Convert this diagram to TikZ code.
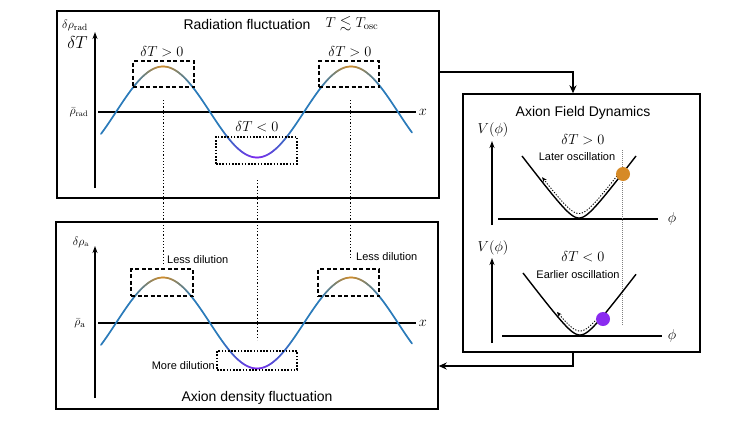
\documentclass[tikz,border=0pt]{standalone}
\usepackage{amsmath,amssymb}
\usepackage{fontspec}
\newfontfamily\hv{Liberation Sans}
\usetikzlibrary{arrows.meta,calc}
\definecolor{wblue}{RGB}{43,123,186}
\definecolor{worange}{RGB}{210,140,40}
\definecolor{wpurple}{RGB}{125,40,240}
\definecolor{ballorange}{RGB}{214,138,38}
\definecolor{ballpurple}{RGB}{138,43,240}
\newcommand\wavecurve[1]{%
 \foreach \xa in {101,...,411}{%
  \pgfmathsetmacro\xbb{\xa+1}%
  \pgfmathsetmacro\xmm{\xa+0.5}%
  \pgfmathsetmacro\wPk{100*max(0,1-min(abs(\xmm-163),abs(\xmm-351))/31)}%
  \pgfmathsetmacro\wTk{100*max(0,1-abs(\xmm-257)/36)}%
  \pgfmathsetmacro\ya{#1-45.5*sin(1.9148936*(\xa-116))}%
  \pgfmathsetmacro\yb{#1-45.5*sin(1.9148936*(\xbb-116))}%
  \colorlet{wc}{worange!\wPk!wblue}%
  \colorlet{wc}{wpurple!\wTk!wc}%
  \draw[wave,wc] (\xa,\ya) -- (\xbb,\yb);
 }}
\tikzset{
 panel/.style={draw,line width=1.4pt,inner sep=0pt},
 wave/.style={line width=1.7pt,line cap=round},
 axisline/.style={line width=1.3pt},
 yarrow/.style={line width=1.3pt,-{Stealth[length=7pt,width=5pt]}},
 dbox/.style={draw,line width=1.6pt,dash pattern=on 4pt off 2.5pt,inner sep=0pt},
 obox/.style={draw,line width=1.6pt,dash pattern=on 1.6pt off 1.6pt,inner sep=0pt},
 vdot/.style={line width=0.9pt,dash pattern=on 1.2pt off 2pt},
 flow/.style={line width=1.8pt,-{Stealth[length=8pt,width=7pt]}},
 pot/.style={line width=1.4pt},
 dotarrow/.style={line width=0.9pt,dash pattern=on 1.2pt off 1.6pt,-{Stealth[length=5pt,width=4pt]}},
 ttl/.style={font=\hv\fontsize{14}{16}\selectfont},
 lbl/.style={font=\hv\fontsize{11}{13}\selectfont,inner sep=1pt},
 mth/.style={font=\fontsize{14}{16}\selectfont,inner sep=0pt},
}
\begin{document}
\begin{tikzpicture}[x=1pt,y=-1pt]
\useasboundingbox (0,0) rectangle (747,421);
% panels
\node[panel,minimum width=382pt,minimum height=187pt] (rad) at (248,104.5) {};
\node[panel,minimum width=382pt,minimum height=187pt] (den) at (247,315.5) {};
\node[panel,minimum width=237pt,minimum height=258pt] (dyn) at (581.5,223) {};
% flow arrows
\draw[flow] ([yshift=-62pt]rad.north east) -| ([xshift=-8.5pt]dyn.north);
\draw[flow] ([xshift=-8.5pt]dyn.south) |- ([yshift=-50.5pt]den.east);

% ---------- Radiation panel
\node[ttl] (t1) at (247,24) {Radiation fluctuation};
\node[mth,font=\fontsize{15}{17}\selectfont] (t1b) at (352,24) {$T\lesssim T_{\rm osc}$};
\node[mth,font=\fontsize{13}{15}\selectfont] (ya1) at (75,25) {$\delta\rho_{\rm rad}$};
\node[mth,font=\fontsize{19}{21}\selectfont] (ya1b) at (77.5,42) {$\delta T$};
\coordinate (ay1a) at (95,188);
\coordinate (ay1b) at (95,32);
\draw[yarrow] (ay1a) -- (ay1b);
\coordinate (ax1a) at (98,112);
\coordinate (ax1b) at (416,112);
\draw[axisline] (ax1a) -- (ax1b);
\node[mth] (xl1) at (423,112) {$x$};
\node[mth,font=\fontsize{12}{14}\selectfont] (rb1) at (79,112) {$\bar\rho_{\rm rad}$};
\wavecurve{112}
\node[dbox,minimum width=61pt,minimum height=26pt] (p1) at (163.5,74) {};
\node[dbox,minimum width=60pt,minimum height=26pt] (p2) at (349,74) {};
\node[obox,minimum width=81pt,minimum height=27pt] (tr1) at (256.5,150.5) {};
\node[mth] (l1) at (162,52) {$\delta T>0$};
\node[mth] (l2) at (350,52) {$\delta T>0$};
\node[mth] (l3) at (257,127) {$\delta T<0$};

% dotted connectors
\coordinate (d1a) at (163,100); \coordinate (d1b) at (163,266);
\coordinate (d2a) at (257,180); \coordinate (d2b) at (257,340);
\coordinate (d3a) at (350,100); \coordinate (d3b) at (350,258);
\draw[vdot] (d1a) -- (d1b);
\draw[vdot] (d2a) -- (d2b);
\draw[vdot] (d3a) -- (d3b);

% ---------- Density panel
\node[ttl] (t2) at (257,398) {Axion density fluctuation};
\node[mth,font=\fontsize{12}{14}\selectfont] (ya2) at (81,242) {$\delta\rho_{\rm a}$};
\coordinate (ay2a) at (95,398);
\coordinate (ay2b) at (95,246);
\draw[yarrow] (ay2a) -- (ay2b);
\coordinate (ax2a) at (98,323);
\coordinate (ax2b) at (416,323);
\draw[axisline] (ax2a) -- (ax2b);
\node[mth] (xl2) at (423,323) {$x$};
\node[mth,font=\fontsize{13}{15}\selectfont] (rb2) at (80,323) {$\bar\rho_{\rm a}$};
\wavecurve{323}
\node[dbox,minimum width=62pt,minimum height=27pt] (p3) at (162,282.5) {};
\node[dbox,minimum width=61pt,minimum height=27pt] (p4) at (348.5,282.5) {};
\node[obox,minimum width=80pt,minimum height=19pt] (tr2) at (257,360.5) {};
\node[lbl,anchor=west] (ld1) at (166,260) {Less dilution};
\node[lbl,anchor=west] (ld2) at (355,257) {Less dilution};
\node[lbl,anchor=east] (md) at (216,366) {More dilution};

% ---------- Dynamics panel
\node[ttl] (t3) at (583,113) {Axion Field Dynamics};
% upper
\coordinate (uy1) at (492,225); \coordinate (uy2) at (492,141);
\draw[yarrow] (uy1) -- (uy2);
\coordinate (ux1) at (498,219); \coordinate (ux2) at (658,219);
\draw[axisline] (ux1) -- (ux2);
\node[mth] (phi1) at (672,219) {$\phi$};
\node[mth] (v1) at (493,130) {$V(\phi)$};
\node[mth] (dt1) at (583,140) {$\delta T>0$};
\draw[gray,line width=0.8pt,dash pattern=on 1pt off 1pt] (622,150) -- (622,326);
\draw[pot] plot[domain=522:636,samples=90] (\x,{218-14.5*(sqrt(1+((\x-579)/11)^2)-1)});
\node[lbl,fill=white,inner sep=0.5pt] (lo) at (577,157) {Later oscillation};
\draw[dotarrow] plot[domain=617:542,samples=70] (\x,{213.5-14.5*(sqrt(1+((\x-579)/11)^2)-1)});
\fill[ballorange] (623,174) circle (7pt);
% lower
\coordinate (ly1) at (492,343); \coordinate (ly2) at (492,258);
\draw[yarrow] (ly1) -- (ly2);
\coordinate (lx1) at (502,336); \coordinate (lx2) at (662,336);
\draw[axisline] (lx1) -- (lx2);
\node[mth] (phi2) at (672,336) {$\phi$};
\node[mth] (v2) at (493,248) {$V(\phi)$};
\node[mth] (dt2) at (583,257) {$\delta T<0$};
\draw[pot] plot[domain=523:636,samples=90] (\x,{335-14.5*(sqrt(1+((\x-580)/11)^2)-1)});
\node[lbl,fill=white,inner sep=0.5pt] (eo) at (578,275) {Earlier oscillation};
\draw[dotarrow] plot[domain=597:557,samples=50] (\x,{331-14.5*(sqrt(1+((\x-580)/11)^2)-1)});
\fill[ballpurple] (603,319) circle (7pt);
\end{tikzpicture}
\end{document}
